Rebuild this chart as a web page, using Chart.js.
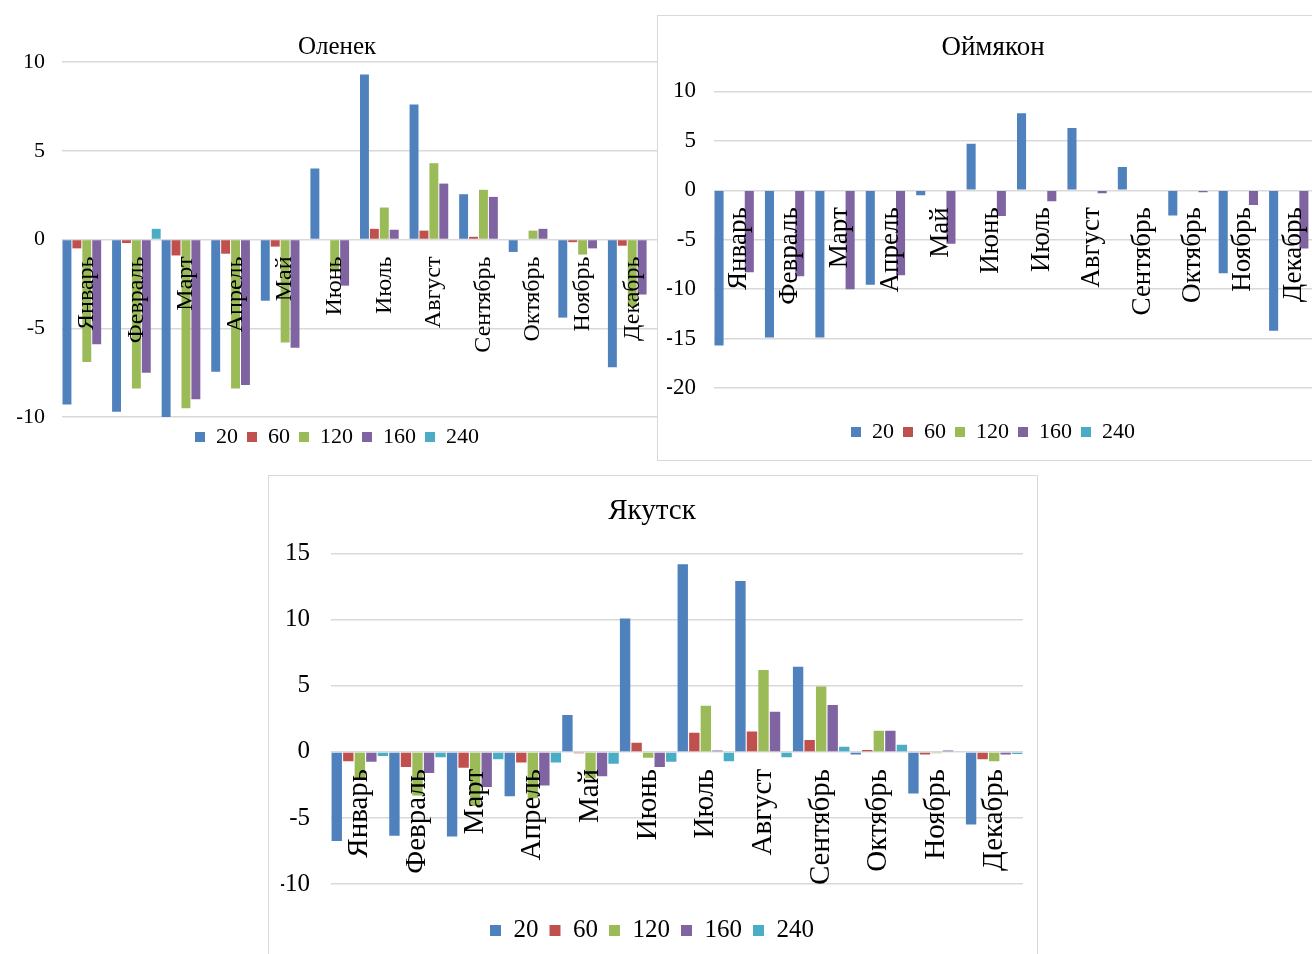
<!DOCTYPE html>
<html>
<head>
<meta charset="utf-8">
<script src="https://cdn.jsdelivr.net/npm/chart.js@4"></script>
<style>
  html, body { margin: 0; padding: 0; background: #fff; overflow: hidden; width: 1312px; height: 954px; }
  .frame { position: absolute; background: #fff; border: 1.5px solid #d9d9d9; box-sizing: border-box; }
  canvas { position: absolute; }
</style>
</head>
<body>
<canvas id="olenek" width="657" height="462" style="left:0;top:0"></canvas>
<div class="frame" style="left:657px;top:15px;width:700px;height:446px"></div>
<canvas id="oymyakon" width="664" height="446" style="left:657px;top:15px"></canvas>
<div class="frame" style="left:268px;top:475px;width:770px;height:500px"></div>
<canvas id="yakutsk" width="770" height="479" style="left:268px;top:475px"></canvas>

<script>
// Months (category axis) and depth series names
const months = ['Январь', 'Февраль', 'Март', 'Апрель', 'Май', 'Июнь',
                'Июль', 'Август', 'Сентябрь', 'Октябрь', 'Ноябрь', 'Декабрь'];
const seriesNames = ['20', '60', '120', '160', '240'];

// Оленек
const olenek20  = [-9.3, -9.7, -10.0, -7.45, -3.45, 4.0, 9.3, 7.6, 2.55, -0.7, -4.4, -7.2];
const olenek60  = [-0.5, -0.2, -0.9, -0.8, -0.4, 0, 0.6, 0.5, 0.15, 0, -0.15, -0.35];
const olenek120 = [-6.9, -8.4, -9.5, -8.4, -5.8, -1.8, 1.8, 4.3, 2.8, 0.5, -0.85, -3.8];
const olenek160 = [-5.9, -7.5, -9.0, -8.2, -6.1, -2.6, 0.55, 3.15, 2.4, 0.6, -0.5, -3.1];
const olenek240 = [0, 0.6, 0, 0, 0, 0, 0, 0, 0, 0, 0, 0];

// Оймякон
const oymyakon20  = [-15.7, -14.9, -14.9, -9.55, -0.5, 4.7, 7.8, 6.3, 2.35, -2.55, -8.4, -14.2];
const oymyakon60  = [0, 0, 0, 0, 0, 0, 0, 0, 0, 0, 0, 0];
const oymyakon120 = [0, 0, 0, 0, 0, 0, 0, 0, 0, 0, 0, 0];
const oymyakon160 = [-8.3, -8.7, -10.0, -8.6, -5.4, -2.6, -1.1, -0.3, 0, -0.2, -1.5, -5.9];
const oymyakon240 = [0, 0, 0, 0, 0, 0, 0, 0, 0, 0, 0, 0];

// Якутск
const yakutsk20  = [-6.75, -6.35, -6.4, -3.35, 2.8, 10.1, 14.2, 12.95, 6.45, -0.2, -3.15, -5.5];
const yakutsk60  = [-0.7, -1.15, -1.2, -0.8, -0.1, 0.7, 1.45, 1.55, 0.9, 0.15, -0.2, -0.55];
const yakutsk120 = [-2.1, -3.3, -4.1, -3.5, -2.0, -0.45, 3.5, 6.2, 4.95, 1.6, -0.1, -0.7];
const yakutsk160 = [-0.75, -1.6, -2.65, -2.55, -1.85, -1.15, 0.1, 3.05, 3.55, 1.6, 0.1, -0.2];
const yakutsk240 = [-0.3, -0.4, -0.55, -0.8, -0.9, -0.75, -0.7, -0.4, 0.4, 0.55, 0, -0.15];

const seriesColors = ['#4f81bd', '#c0504d', '#9bbb59', '#8064a2', '#4bacc6'];

Chart.defaults.font.family = "'Liberation Serif', 'Times New Roman', serif";
Chart.defaults.color = '#000';

function buildChart(id, o) {
  return new Chart(document.getElementById(id), {
    type: 'bar',
    data: {
      labels: months,
      datasets: o.series.map((vals, i) => ({
        label: seriesNames[i],
        data: vals,
        backgroundColor: seriesColors[i],
        borderWidth: 0,
        xAxisID: 'x',
        yAxisID: 'y',
        categoryPercentage: 1,
        barPercentage: 0.9
      }))
    },
    options: {
      responsive: false,
      animation: false,
      layout: { padding: o.padding },
      plugins: {
        title: {
          display: true, text: o.title, color: '#000',
          font: { size: o.titleSize, weight: 'normal' },
          padding: o.titlePad
        },
        legend: {
          position: 'bottom',
          labels: {
            boxWidth: o.box, boxHeight: o.box, padding: o.legendPad,
            color: '#000', font: { size: o.legendSize }
          }
        },
        tooltip: { enabled: false }
      },
      scales: {
        y: {
          min: o.min, max: o.max,
          ticks: { stepSize: 5, padding: o.tickPad, color: '#000', font: { size: o.tickSize } },
          grid: { color: '#d9d9d9', lineWidth: 1.5, drawTicks: false },
          border: { display: false },
          afterFit: s => { s.width = o.yWidth; }
        },
        // month names sit on the zero line, drawn above the bars
        x: {
          type: 'category',
          position: { y: 0 },
          grid: { display: false, drawTicks: false },
          border: { display: false },
          ticks: {
            minRotation: 90, maxRotation: 90, autoSkip: false,
            padding: o.labelPad, z: 1, color: '#000', font: { size: o.labelSize }
          },
          afterFit: s => {
            s.height = 0;
            s.paddingLeft = 0;
            s.paddingRight = 0;
          }
        },
        // empty band between the plot and the legend
        gap: {
          type: 'category',
          position: 'bottom',
          grid: { display: false, drawTicks: false },
          border: { display: false },
          ticks: { display: false },
          afterFit: s => {
            s.height = o.gap;
            s.paddingLeft = 0;
            s.paddingRight = 0;
          }
        }
      }
    }
  });
}

buildChart('olenek', {
  title: 'Оленек',
  series: [olenek20, olenek60, olenek120, olenek160, olenek240],
  min: -10, max: 10,
  padding: { left: 17, right: 0, top: 0, bottom: 4 },
  titleSize: 25, titlePad: { top: 32, bottom: 0 },
  legendSize: 22, box: 10, legendPad: 9,
  tickSize: 22, tickPad: 17, yWidth: 45,
  labelSize: 24, labelPad: 17, gap: 0
});

buildChart('oymyakon', {
  title: 'Оймякон',
  series: [oymyakon20, oymyakon60, oymyakon120, oymyakon160, oymyakon240],
  min: -20, max: 10,
  padding: { left: 10, right: 2, top: 0, bottom: 8 },
  titleSize: 27, titlePad: { top: 17, bottom: 27 },
  legendSize: 22, box: 10, legendPad: 9,
  tickSize: 23, tickPad: 18, yWidth: 47,
  labelSize: 27, labelPad: 17, gap: 24
});

buildChart('yakutsk', {
  title: 'Якутск',
  series: [yakutsk20, yakutsk60, yakutsk120, yakutsk160, yakutsk240],
  min: -10, max: 15,
  padding: { left: 13, right: 15, top: 0, bottom: 1 },
  titleSize: 29, titlePad: { top: 19, bottom: 25 },
  legendSize: 25, box: 11, legendPad: 11,
  tickSize: 25, tickPad: 21, yWidth: 50,
  labelSize: 29, labelPad: 17, gap: 23
});
</script>
</body>
</html>
